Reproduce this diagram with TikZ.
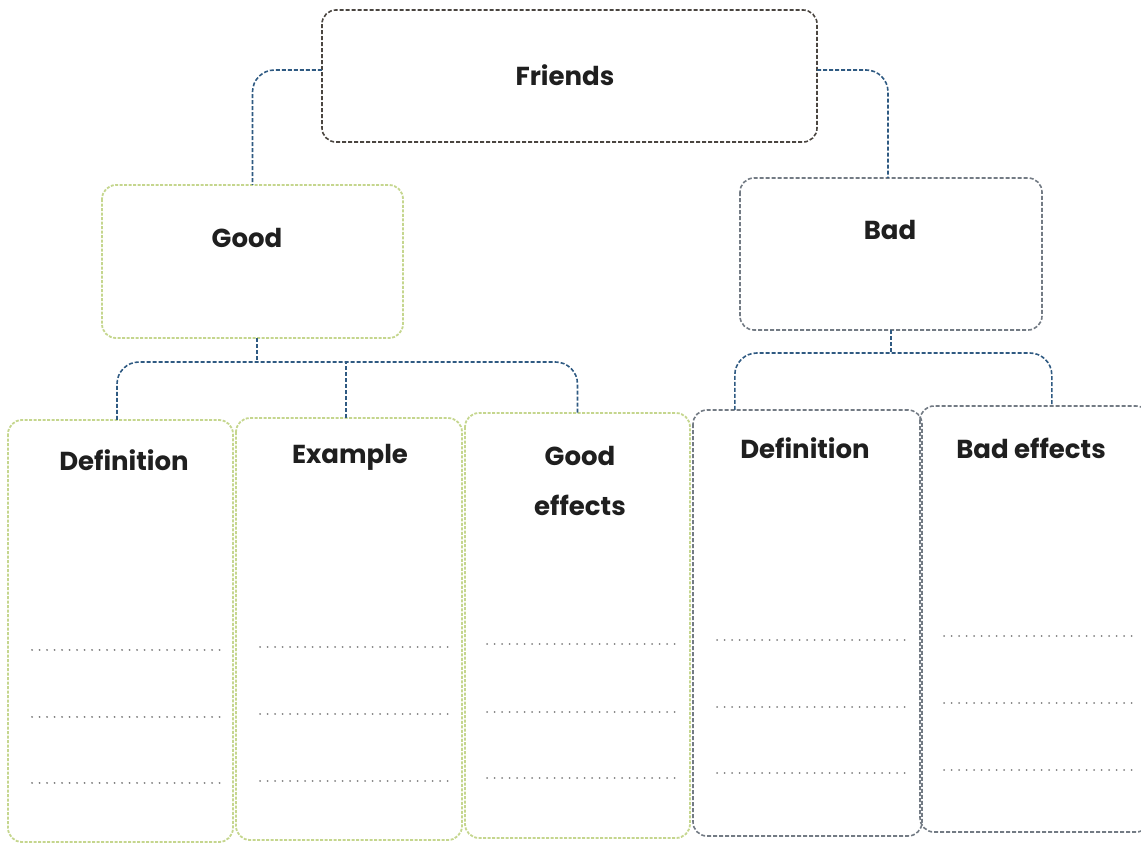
\documentclass[tikz,border=0pt]{standalone}
\usepackage{fontspec}
\setmainfont{Poppins}
\usetikzlibrary{calc}
\definecolor{connc}{HTML}{2F5A82}
\definecolor{topc}{HTML}{4A4540}
\definecolor{goodc}{HTML}{C5D68E}
\definecolor{badc}{HTML}{737B84}
\definecolor{linec}{HTML}{808080}
\tikzset{
  conn/.style={draw=connc, line width=1.6pt, dash pattern=on 4pt off 2pt, rounded corners=22pt},
  topbox/.style={draw=topc, line width=1.6pt, dash pattern=on 4pt off 2pt, rounded corners=14pt},
  goodbox/.style={draw=goodc, line width=1.8pt, dash pattern=on 3pt off 1.5pt, rounded corners=14pt},
  badbox/.style={draw=badc, line width=1.6pt, dash pattern=on 4pt off 2pt, rounded corners=14pt},
  wline/.style={draw=linec, line width=2pt, line cap=round, dash pattern=on 0.1pt off 7.4pt},
  lbl/.style={font=\bfseries\fontsize{26}{30}\selectfont, text=black!88, align=center, inner sep=0pt}
}
\begin{document}
\begin{tikzpicture}[x=1pt,y=-1pt]
\useasboundingbox (0,0) rectangle (1141,846);
% boxes
\path[topbox] (322,10) rectangle (817,142);
\node[inner sep=0pt, minimum width=495pt, minimum height=132pt] (friends) at (569.5,76) {};
\node[lbl] (tF) at (565,75) {Friends};

\path[goodbox] (102,185) rectangle (403,338);
\node[inner sep=0pt, minimum width=301pt, minimum height=153pt] (good) at (252.5,261.5) {};
\node[lbl] (tG) at (247,238) {Good};

\path[badbox] (740,178) rectangle (1042,330);
\node[inner sep=0pt, minimum width=302pt, minimum height=152pt] (bad) at (891,254) {};
\node[lbl] (tB) at (890,230) {Bad};

\path[goodbox] (8,420) rectangle (233,842);
\node[inner sep=0pt, minimum width=225pt, minimum height=422pt] (def1) at (120.5,631) {};
\node[lbl] (tD1) at (124,460) {Definition};

\path[goodbox] (236,418) rectangle (462,840);
\node[inner sep=0pt, minimum width=226pt, minimum height=422pt] (ex) at (349,629) {};
\node[lbl] (tE) at (350,457) {Example};

\path[goodbox] (465,413) rectangle (690,838);
\node[inner sep=0pt, minimum width=225pt, minimum height=425pt] (ge) at (577.5,625.5) {};
\node[lbl, text depth=0pt] (tGE) at (580,481) {Good\\[20pt]effects};

\path[badbox] (693,410) rectangle (922,836);
\node[inner sep=0pt, minimum width=229pt, minimum height=426pt] (def2) at (807.5,623) {};
\node[lbl] (tD2) at (805,448) {Definition};

\path[badbox] (920,406) rectangle (1150,832);
\node[inner sep=0pt, minimum width=230pt, minimum height=426pt] (be) at (1035,619) {};
\node[lbl] (tBE) at (1031,448) {Bad effects};

% writing lines
\foreach \y in {650,717,783} \draw[wline] (32,\y) -- (220,\y);
\foreach \y in {647,714,781} \draw[wline] (260,\y) -- (448,\y);
\foreach \y in {644,712,778} \draw[wline] (487,\y) -- (678,\y);
\foreach \y in {640,707,773} \draw[wline] (717,\y) -- (905,\y);
\foreach \y in {636,703,770} \draw[wline] (944,\y) -- (1134,\y);

% connectors
\draw[conn] ($(friends.west)+(0,-6)$) -| (good.north);
\draw[conn] ($(friends.east)+(0,-6)$) -| ($(bad.north)+(-3,0)$);

\coordinate (gj) at (257,362);
\draw[conn] ($(good.south)+(4.5,0)$) -- (gj);
\draw[conn] ($(def1.north)+(-3.5,0)$) |- (ge.north |- gj) -- (ge.north);
\draw[conn] ($(ex.north)+(-3,0)$) -- ($(ex.north |- gj)+(-3,0)$);

\coordinate (bj) at (891,353);
\coordinate (d2t) at ($(def2.north west)+(42,0)$);
\coordinate (bet) at ($(be.north west)+(132,0)$);
\draw[conn] (bad.south) -- (bj);
\draw[conn] (d2t) |- (bet |- bj) -- (bet);
\end{tikzpicture}
\end{document}
